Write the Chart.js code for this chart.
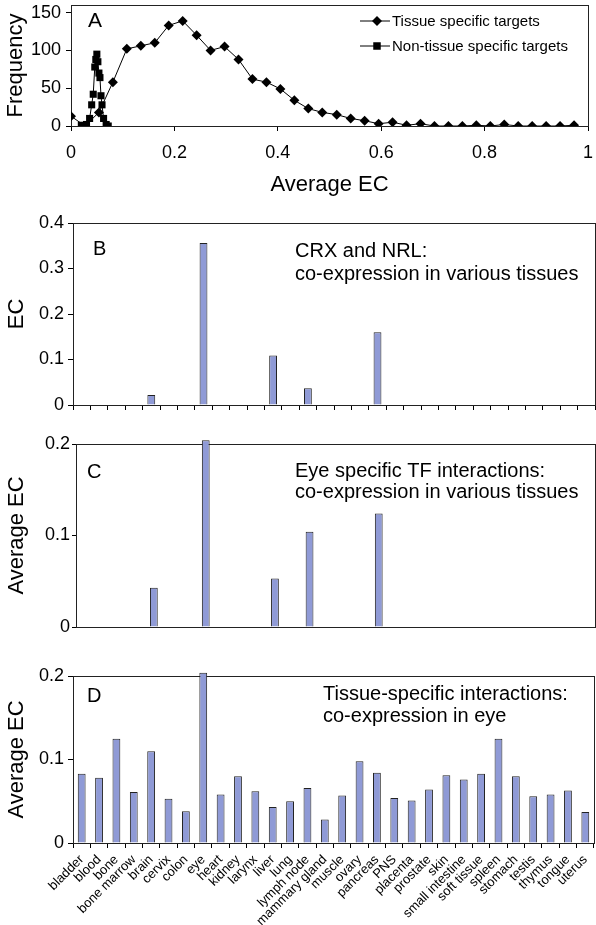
<!DOCTYPE html>
<html>
<head>
<meta charset="utf-8">
<script src="https://cdn.jsdelivr.net/npm/chart.js@4.4.1/dist/chart.umd.min.js"></script>
<style>
  html, body { margin: 0; padding: 0; background: #fff; }
  canvas { position: absolute; left: 0; }
</style>
</head>
<body>
<canvas id="panelA" width="596" height="200" style="top:0px"></canvas>
<canvas id="panelB" width="596" height="220" style="top:200px"></canvas>
<canvas id="panelC" width="596" height="230" style="top:420px"></canvas>
<canvas id="panelD" width="596" height="275" style="top:650px"></canvas>
<script>
// panel A: frequency of average EC
const tissueEC = [0, 0.027, 0.054, 0.081, 0.108, 0.135, 0.162, 0.189, 0.216, 0.243, 0.270, 0.297, 0.324,
    0.351, 0.378, 0.405, 0.432, 0.459, 0.486, 0.514, 0.541, 0.568, 0.595, 0.622, 0.649, 0.676, 0.703,
    0.730, 0.757, 0.784, 0.811, 0.838, 0.865, 0.892, 0.919, 0.946, 0.973];
const tissueFreq = [13, 0, 18, 58, 102, 106, 110, 133, 139, 120, 100, 105, 88,
    62, 58, 49, 34, 23, 18, 15, 10, 7, 3, 5, 1, 3, 0,
    0, 0, 1, 0, 2, 0, 0, 0, 0, 1];
const nonTissueEC = [0.020, 0.030, 0.036, 0.040, 0.043, 0.046, 0.048, 0.050, 0.052, 0.054, 0.056, 0.058, 0.060, 0.063, 0.068, 0.072];
const nonTissueFreq = [1, 2, 10, 28, 42, 78, 88, 95, 85, 70, 64, 40, 28, 10, 2, 0];
const freqTicks = [0, 50, 100, 150];

// panels B-D
const tissues = ['bladder', 'blood', 'bone', 'bone marrow', 'brain', 'cervix', 'colon', 'eye', 'heart', 'kidney',
    'larynx', 'liver', 'lung', 'lymph node', 'mammary gland', 'muscle', 'ovary', 'pancreas', 'PNS', 'placenta',
    'prostate', 'skin', 'small intestine', 'soft tissue', 'spleen', 'stomach', 'testis', 'thymus', 'tongue', 'uterus'];
const crxNrlEC = [0, 0, 0, 0, 0.022, 0, 0, 0.356, 0, 0, 0, 0.109, 0, 0.037, 0, 0, 0, 0.160, 0, 0,
    0, 0, 0, 0, 0, 0, 0, 0, 0, 0];
const eyeTfEC = [0, 0, 0, 0, 0.043, 0, 0, 0.204, 0, 0, 0, 0.053, 0, 0.104, 0, 0, 0, 0.124, 0, 0,
    0, 0, 0, 0, 0, 0, 0, 0, 0, 0];
const eyeCoexpEC = [0.083, 0.078, 0.125, 0.061, 0.110, 0.053, 0.038, 0.204, 0.058, 0.080,
    0.062, 0.043, 0.050, 0.066, 0.028, 0.057, 0.098, 0.084, 0.054, 0.051,
    0.064, 0.081, 0.076, 0.083, 0.125, 0.080, 0.056, 0.058, 0.063, 0.037];

const ink = '#000';
const barClr = '#8f9ad6';
const fontFamily = 'Liberation Sans, Arial, Helvetica, sans-serif';
Chart.defaults.font.family = fontFamily;
Chart.defaults.color = ink;

const fmt = v => String(+v.toFixed(2));

// box around the plot area
const framePlugin = {
    id: 'frame',
    beforeDatasetsDraw(chart) {
        const a = chart.chartArea, ctx = chart.ctx;
        ctx.save();
        ctx.strokeStyle = '#222';
        ctx.lineWidth = 1;
        ctx.strokeRect(Math.round(a.left) + 0.5, Math.round(a.top) + 0.5,
            Math.round(a.right) - Math.round(a.left), Math.round(a.bottom) - Math.round(a.top));
        ctx.restore();
    }
};

// panel letters and captions
const notesPlugin = {
    id: 'notes',
    afterDraw(chart, args, opts) {
        if (!opts.items) return;
        const ctx = chart.ctx;
        ctx.save();
        ctx.fillStyle = ink;
        ctx.textAlign = 'left';
        ctx.textBaseline = 'alphabetic';
        opts.items.forEach(it => {
            ctx.font = it.size + 'px ' + fontFamily;
            ctx.fillText(it.text, it.x, it.y);
        });
        ctx.restore();
    }
};

// legend with a line through the marker
const lineLegend = {
    id: 'lineLegend',
    afterDraw(chart, args, opts) {
        if (!opts.rows) return;
        const ctx = chart.ctx;
        ctx.save();
        ctx.font = opts.size + 'px ' + fontFamily;
        ctx.textBaseline = 'middle';
        chart.data.datasets.forEach((ds, i) => {
            const y = opts.rows[i];
            ctx.strokeStyle = ink;
            ctx.fillStyle = ink;
            ctx.lineWidth = 1;
            ctx.beginPath();
            ctx.moveTo(opts.x0, y);
            ctx.lineTo(opts.x1, y);
            ctx.stroke();
            const m = opts.xm, r = ds.pointRadius;
            ctx.beginPath();
            if (ds.pointStyle === 'rectRot') {
                ctx.moveTo(m, y - r); ctx.lineTo(m + r, y); ctx.lineTo(m, y + r); ctx.lineTo(m - r, y);
            } else {
                const h = r * 0.75;
                ctx.rect(m - h, y - h, 2 * h, 2 * h);
            }
            ctx.closePath();
            ctx.fill();
            ctx.fillText(ds.label, opts.xt, y + 1);
        });
        ctx.restore();
    }
};

Chart.register(framePlugin, notesPlugin, lineLegend);

function tickGrid(len) {
    return { display: true, drawOnChartArea: false, drawTicks: true, tickLength: len, color: ink, lineWidth: 1 };
}

new Chart(document.getElementById('panelA'), {
    type: 'scatter',
    data: {
        datasets: [{
            label: 'Tissue specific targets',
            data: tissueEC.map((x, i) => ({ x: x, y: tissueFreq[i] })),
            showLine: true,
            borderColor: ink,
            borderWidth: 1,
            backgroundColor: ink,
            pointStyle: 'rectRot',
            pointRadius: 5,
            pointBorderWidth: 0
        }, {
            label: 'Non-tissue specific targets',
            data: nonTissueEC.map((x, i) => ({ x: x, y: nonTissueFreq[i] })),
            showLine: true,
            borderColor: ink,
            borderWidth: 1,
            backgroundColor: ink,
            pointStyle: 'rect',
            pointRadius: 5,
            pointBorderWidth: 0
        }]
    },
    options: {
        responsive: false,
        animation: false,
        layout: { padding: { top: 1, right: 8, left: 0, bottom: 0 } },
        scales: {
            x: {
                type: 'linear', min: 0, max: 1,
                afterFit: s => { s.height = 74; s.paddingLeft = 0; s.paddingRight = 0; },
                ticks: { stepSize: 0.2, font: { size: 18 }, padding: 11, callback: fmt },
                grid: tickGrid(5),
                border: { display: false },
                title: { display: true, text: 'Average EC', font: { size: 22 }, padding: { top: 0, bottom: 2 } }
            },
            y: {
                min: 0, max: 160,
                afterBuildTicks: s => { s.ticks = freqTicks.map(v => ({ value: v })); },
                afterFit: s => { s.width = 71; s.paddingTop = 0; s.paddingBottom = 0; },
                ticks: { font: { size: 18 }, padding: 5 },
                grid: tickGrid(5),
                border: { display: false },
                title: { display: true, text: 'Frequency', font: { size: 22 }, padding: { top: 3, bottom: 0 } }
            }
        },
        plugins: {
            legend: { display: false },
            tooltip: { enabled: false },
            notes: { items: [{ text: 'A', x: 88, y: 27, size: 21 }] },
            lineLegend: { rows: [21, 46], x0: 360, x1: 390, xm: 377, xt: 392, size: 15 }
        }
    }
});

function barPanel(id, values, cfg) {
    return new Chart(document.getElementById(id), {
        type: 'bar',
        data: {
            labels: tissues,
            datasets: [{
                data: values,
                backgroundColor: barClr,
                borderColor: '#222',
                borderWidth: 1,
                barPercentage: 0.45,
                categoryPercentage: 1,
                clip: false
            }]
        },
        options: {
            responsive: false,
            animation: false,
            layout: { padding: { top: cfg.top, right: cfg.right, left: 0, bottom: 0 } },
            scales: {
                x: {
                    offset: true,
                    afterFit: s => { s.height = cfg.xh; s.paddingLeft = 0; s.paddingRight = 0; },
                    ticks: cfg.labels
                        ? { display: true, autoSkip: false, maxRotation: 45, minRotation: 45, font: { size: 13 }, padding: 4 }
                        : { display: false },
                    grid: cfg.xticks ? Object.assign(tickGrid(5), { offset: true }) : { display: false },
                    border: { display: false }
                },
                y: {
                    min: 0, max: cfg.max,
                    afterFit: s => { s.width = cfg.yw; s.paddingTop = 0; s.paddingBottom = 0; },
                    ticks: { stepSize: 0.1, font: { size: 18 }, padding: cfg.tickPad, callback: fmt },
                    grid: tickGrid(cfg.tickLen),
                    border: { display: false },
                    title: { display: true, text: cfg.ytitle, font: { size: 22 }, padding: { top: 4, bottom: 0 } }
                }
            },
            plugins: {
                legend: { display: false },
                tooltip: { enabled: false },
                notes: { items: cfg.notes }
            }
        }
    });
}

barPanel('panelB', crxNrlEC, {
    top: 23, right: 1, xh: 15, yw: 73, max: 0.4, tickLen: 5, tickPad: 4, xticks: true, labels: false,
    ytitle: 'EC',
    notes: [
        { text: 'B', x: 93, y: 55, size: 20 },
        { text: 'CRX and NRL:', x: 295, y: 57, size: 20 },
        { text: 'co-expression in various tissues', x: 295, y: 80, size: 20 }
    ]
});

barPanel('panelC', eyeTfEC, {
    top: 24, right: 1, xh: 23, yw: 76, max: 0.2, tickLen: 4, tickPad: 2, xticks: false, labels: false,
    ytitle: 'Average EC',
    notes: [
        { text: 'C', x: 87, y: 58, size: 20 },
        { text: 'Eye specific TF interactions:', x: 295, y: 57, size: 20 },
        { text: 'co-expression in various tissues', x: 295, y: 78, size: 20 }
    ]
});

barPanel('panelD', eyeCoexpEC, {
    top: 26, right: 2, xh: 82, yw: 73, max: 0.2, tickLen: 5, tickPad: 4, xticks: true, labels: true,
    ytitle: 'Average EC',
    notes: [
        { text: 'D', x: 87, y: 52, size: 20 },
        { text: 'Tissue-specific interactions:', x: 323, y: 50, size: 20 },
        { text: 'co-expression in eye', x: 323, y: 72, size: 20 }
    ]
});
</script>
</body>
</html>
